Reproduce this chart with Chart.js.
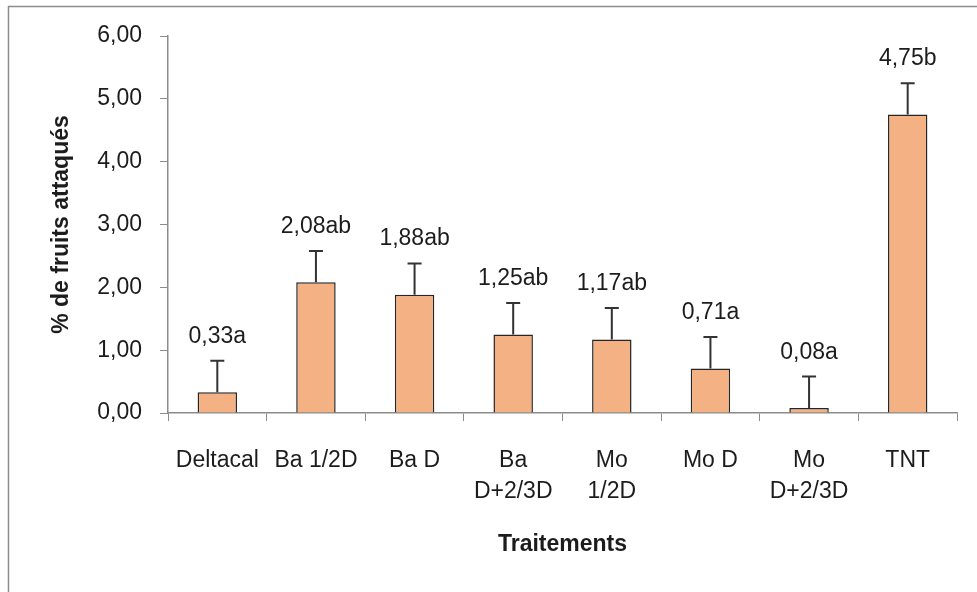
<!DOCTYPE html>
<html>
<head>
<meta charset="utf-8">
<script src="https://cdn.jsdelivr.net/npm/chart.js@4"></script>
<style>
  html, body { margin: 0; padding: 0; background: #fff; overflow: hidden; }
  #wrap { width: 977px; height: 592px; }
</style>
</head>
<body>
<div id="wrap"><canvas id="chart-1"></canvas></div>
<script>
var categories = ["Deltacal", "Ba 1/2D", "Ba D", ["Ba", "D+2/3D"], ["Mo", "1/2D"], "Mo D", ["Mo", "D+2/3D"], "TNT"];
var values = [0.33, 2.08, 1.88, 1.25, 1.17, 0.71, 0.08, 4.75];
var errors = [0.5, 0.5, 0.5, 0.5, 0.5, 0.5, 0.5, 0.5];
var letters = ["a", "ab", "ab", "ab", "ab", "a", "a", "b"];

var FONT = "'Liberation Sans', Arial, sans-serif";
var TEXT = "#1c1c1c";

// frame, error bars and value labels
var extras = {
  id: "extras",
  beforeDraw: function (chart) {
    var ctx = chart.ctx;
    ctx.save();
    ctx.strokeStyle = "#8c8c8c";
    ctx.lineWidth = 1.5;
    ctx.strokeRect(8.5, 6.5, 1100, 1100);
    ctx.restore();
  },
  afterDatasetsDraw: function (chart) {
    var ctx = chart.ctx;
    var meta = chart.getDatasetMeta(0);
    var y = chart.scales.y;
    ctx.save();
    meta.data.forEach(function (bar, i) {
      var top = y.getPixelForValue(values[i] + errors[i]);
      ctx.strokeStyle = "#333";
      ctx.lineWidth = 2;
      ctx.beginPath();
      ctx.moveTo(bar.x, bar.y);
      ctx.lineTo(bar.x, top);
      ctx.moveTo(bar.x - 7, top);
      ctx.lineTo(bar.x + 7, top);
      ctx.stroke();
      ctx.fillStyle = TEXT;
      ctx.font = "23px " + FONT;
      ctx.textAlign = "center";
      ctx.textBaseline = "alphabetic";
      ctx.fillText(values[i].toFixed(2).replace(".", ",") + letters[i], bar.x, top - 18);
    });
    ctx.restore();
  }
};

new Chart(document.getElementById("chart-1").getContext("2d"), {
  type: "bar",
  data: {
    labels: categories,
    datasets: [
      {
        data: values,
        backgroundColor: "#F4B183",
        borderColor: "#262626",
        borderWidth: 1.5,
        barPercentage: 0.4,
        categoryPercentage: 1,
      },
    ],
  },
  options: {
    responsive: true,
    maintainAspectRatio: false,
    animation: false,
    layout: { padding: { top: 36, right: 20, left: 0, bottom: 0 } },
    plugins: { legend: { display: false }, tooltip: { enabled: false } },
    scales: {
      x: {
        afterFit: function (s) { s.height = 179; },
        grid: { drawOnChartArea: false, color: "#8c8c8c", tickLength: 8, offset: true },
        border: { color: "#8c8c8c", width: 1.5 },
        ticks: { color: TEXT, font: { size: 23, family: FONT, lineHeight: 1.35 }, padding: 24, maxRotation: 0, autoSkip: false },
        title: { display: true, text: "Traitements", color: TEXT, font: { size: 23, weight: "bold", family: FONT }, padding: { bottom: 34 } },
      },
      y: {
        min: 0,
        max: 6,
        afterFit: function (s) { s.width = 168; },
        grid: { drawOnChartArea: false, color: "#8c8c8c", tickLength: 8 },
        border: { color: "#8c8c8c", width: 1.5 },
        ticks: {
          stepSize: 1,
          color: TEXT,
          font: { size: 23, family: FONT },
          padding: 18,
          callback: function (v) { return v.toFixed(2).replace(".", ","); },
        },
        title: { display: true, text: "% de fruits attaqués", color: TEXT, font: { size: 23, weight: "bold", family: FONT }, padding: { top: 48 } },
      },
    },
  },
  plugins: [extras],
});
</script>
</body>
</html>
